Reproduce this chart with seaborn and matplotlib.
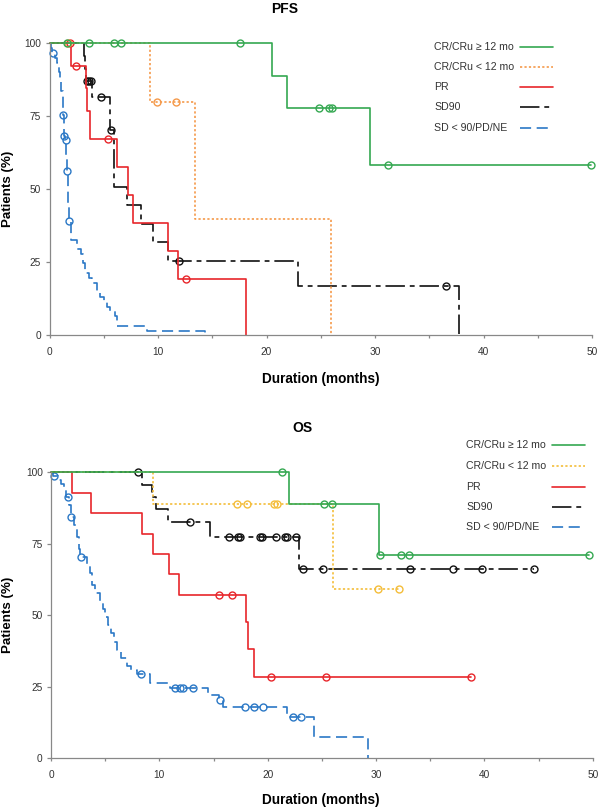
# Kaplan-Meier style PFS / OS curves by response group
import numpy as np
import matplotlib
matplotlib.use("Agg")
import matplotlib.pyplot as plt
from matplotlib.lines import Line2D
import seaborn as sns

sns.set_theme(style="ticks")
plt.rcParams["font.family"] = ["Liberation Sans", "DejaVu Sans"]
plt.rcParams["lines.scale_dashes"] = False

GROUPS = ["CR/CRu \u2265 12 mo", "CR/CRu < 12 mo", "PR", "SD90", "SD < 90/PD/NE"]

# ---- PFS (event times in months, % surviving after each step, censor times)
pfs_cr12_t = [0, 20.5, 21.9, 29.5]
pfs_cr12_s = [100, 88.9, 77.8, 58.3]
pfs_cr12_c = [1.6, 3.6, 5.9, 6.6, 17.6, 24.8, 25.8, 26.0, 31.2, 49.9]

pfs_cr_lt_t = [0, 9.3, 13.4, 25.95]
pfs_cr_lt_s = [100, 80.0, 40.0, 0]
pfs_cr_lt_c = [1.7, 9.9, 11.7]

pfs_pr_t = [0, 1.95, 3.35, 3.45, 3.75, 6.25, 7.2, 7.7, 10.9, 11.85, 18.15]
pfs_pr_s = [100, 92.3, 84.6, 76.9, 67.3, 57.7, 48.1, 38.5, 28.8, 19.2, 0]
pfs_pr_c = [1.85, 2.4, 5.4, 12.6]

pfs_sd90_t = [0, 3.2, 3.3, 3.38, 3.9, 5.6, 5.9, 7.1, 8.4, 9.5, 10.9, 22.9, 37.75]
pfs_sd90_s = [100, 95.7, 91.3, 87.0, 81.5, 70.2, 50.9, 44.5, 38.2, 31.8, 25.5, 17.0, 0]
pfs_sd90_c = [3.45, 3.62, 3.78, 4.75, 5.7, 11.9, 36.5]

pfs_sd_t = [0, 0.15, 0.25, 0.5, 0.65, 0.8, 0.9, 1.0, 1.1, 1.2, 1.25, 1.32, 1.34, 1.45,
            1.55, 1.6, 1.7, 1.75, 1.8, 2.0, 2.5, 2.9, 3.1, 3.3, 3.6, 3.9, 4.4, 4.7,
            5.0, 5.3, 5.6, 6.05, 6.2, 9.0, 14.35]
pfs_sd_s = [100, 98.4, 96.7, 95.0, 93.4, 91.8, 90.1, 86.8, 83.5, 78.6, 75.4, 70.5, 68.3, 66.8,
            60.6, 56.4, 50.8, 44.3, 39.2, 32.8, 29.5, 27.9, 24.6, 21.3, 19.7, 18.0, 14.8, 13.1,
            11.5, 9.8, 8.2, 6.6, 3.3, 1.6, 0]
pfs_sd_c = [0.28, 1.27, 1.34, 1.48, 1.62, 1.83]

# ---- OS
os_cr12_t = [0, 22.0, 30.3]
os_cr12_s = [100, 88.9, 71.1]
os_cr12_c = [21.3, 25.2, 25.9, 30.4, 32.3, 33.0, 49.7]

os_cr_lt_t = [0, 9.4, 26.0]
os_cr_lt_s = [100, 88.9, 59.3]
os_cr_lt_c = [17.2, 18.1, 20.6, 20.9, 30.2, 32.1]

os_pr_t = [0, 1.95, 3.7, 8.4, 9.45, 10.9, 11.8, 18.0, 18.15, 18.7]
os_pr_s = [100, 92.9, 85.7, 78.6, 71.4, 64.3, 57.1, 47.6, 38.1, 28.6]
os_pr_c = [15.5, 16.7, 20.3, 25.4, 38.8]

os_sd90_t = [0, 8.4, 9.3, 9.7, 10.8, 14.7, 22.9]
os_sd90_s = [100, 95.7, 91.3, 87.0, 82.6, 77.4, 66.3]
os_sd90_c = [8.0, 12.8, 16.4, 17.3, 17.4, 19.3, 19.5, 20.8, 21.6, 21.8, 22.6, 23.3,
             25.1, 33.1, 37.1, 39.8, 44.6]

os_sd_t = [0, 0.2, 0.6, 0.9, 1.2, 1.4, 1.7, 1.8, 2.1, 2.4, 2.6, 2.7, 3.3, 3.6, 3.8, 4.1,
           4.5, 4.8, 5.0, 5.3, 5.5, 5.8, 6.1, 6.5, 7.0, 7.4, 7.9, 9.1, 11.0, 14.5, 15.5,
           15.9, 21.8, 24.3, 29.3]
os_sd_s = [100, 98.6, 97.2, 95.8, 94.4, 91.5, 88.7, 84.5, 81.7, 77.5, 73.2, 70.4, 67.6, 64.8,
           60.6, 57.7, 54.9, 52.1, 49.3, 46.5, 43.7, 40.8, 38.0, 35.2, 32.4, 31.0, 29.6, 26.2,
           24.5, 22.2, 20.4, 18.0, 14.5, 7.3, 0]
os_sd_c = [0.28, 1.6, 1.85, 2.75, 8.3, 11.45, 11.9, 12.2, 13.1, 15.6, 17.9, 18.7, 19.6, 22.3, 23.1]

# line styles per group
GREEN, RED, BLUE, BLACK = "#35a852", "#e8262b", "#2b78c6", "#111111"
ORANGE_PFS, ORANGE_OS = "#f5994a", "#f4bd3a"
STYLES = [
    dict(linestyle="-"),
    dict(linestyle=(0, (1.6, 1.6))),
    dict(linestyle="-"),
    dict(linestyle=(0, (14, 3.5, 3.5, 3.5))),
    dict(linestyle=(0, (8, 4))),
]


def step_value(t, s, x):
    idx = np.searchsorted(t, x, side="right") - 1
    return np.asarray(s)[idx]


def draw_km(ax, t, s, c, color, style):
    xs, ys = list(t), list(s)
    if ys[-1] > 0 and max(c) > xs[-1]:
        xs.append(max(c))
        ys.append(ys[-1])
    sns.lineplot(x=xs, y=ys, ax=ax, color=color, linewidth=1.2, estimator=None,
                 sort=False, drawstyle="steps-post", clip_on=False, **style)
    cy = step_value(t, s, c)
    sns.lineplot(x=c, y=cy, ax=ax, color=color, linestyle="none", marker="o",
                 markersize=5, markerfacecolor="none", markeredgecolor=color,
                 markeredgewidth=1.0, estimator=None, sort=False, clip_on=False)


def style_axes(ax):
    ax.set_xlim(0, 50)
    ax.set_ylim(0, 100)
    ax.set_xticks([0, 10, 20, 30, 40, 50])
    ax.set_xticks([5, 15, 25, 35, 45], minor=True)
    ax.set_yticks([0, 25, 50, 75, 100])
    for side in ["top", "right"]:
        ax.spines[side].set_visible(False)
    for side in ["left", "bottom"]:
        ax.spines[side].set_color("#888888")
        ax.spines[side].set_linewidth(0.9)
    ax.tick_params(axis="both", which="both", direction="out", color="#888888",
                   width=0.9, labelsize=7.3, labelcolor="#333333")
    ax.tick_params(axis="x", which="both", length=2.5, pad=6)
    ax.tick_params(axis="y", length=3, pad=3)
    ax.set_xlabel("")
    ax.set_ylabel("")


fig = plt.figure(figsize=(6, 8.09), dpi=100)
W, H = 600, 809


def fx(px):
    return px / W


def fy(py):
    return 1 - py / H


ax1 = fig.add_axes([fx(49.5), fy(335.3), fx(592) - fx(49.5), fy(43.3) - fy(335.3)])
ax2 = fig.add_axes([fx(51), fy(758.3), fx(592.7) - fx(51), fy(472.3) - fy(758.3)])

pfs = [
    (pfs_cr12_t, pfs_cr12_s, pfs_cr12_c, GREEN),
    (pfs_cr_lt_t, pfs_cr_lt_s, pfs_cr_lt_c, ORANGE_PFS),
    (pfs_pr_t, pfs_pr_s, pfs_pr_c, RED),
    (pfs_sd90_t, pfs_sd90_s, pfs_sd90_c, BLACK),
    (pfs_sd_t, pfs_sd_s, pfs_sd_c, BLUE),
]
os_ = [
    (os_cr12_t, os_cr12_s, os_cr12_c, GREEN),
    (os_cr_lt_t, os_cr_lt_s, os_cr_lt_c, ORANGE_OS),
    (os_pr_t, os_pr_s, os_pr_c, RED),
    (os_sd90_t, os_sd90_s, os_sd90_c, BLACK),
    (os_sd_t, os_sd_s, os_sd_c, BLUE),
]

# draw blue first, green last so green sits on top at 100 %
for ax, groups in [(ax1, pfs), (ax2, os_)]:
    for i in [4, 3, 2, 1, 0]:
        t, s, c, col = groups[i]
        draw_km(ax, t, s, c, col, STYLES[i])
    style_axes(ax)

# titles and axis labels
bold = dict(fontweight="bold", color="black")
fig.text(fx(285), fy(9), "PFS", ha="center", va="center", fontsize=10, **bold)
fig.text(fx(302), fy(428), "OS", ha="center", va="center", fontsize=10, **bold)
fig.text(fx(321), fy(379), "Duration (months)", ha="center", va="center", fontsize=9.8, **bold)
fig.text(fx(321), fy(800), "Duration (months)", ha="center", va="center", fontsize=9.8, **bold)
fig.text(fx(8), fy(189), "Patients (%)", ha="center", va="center", rotation=90, fontsize=9.6, **bold)
fig.text(fx(8), fy(615), "Patients (%)", ha="center", va="center", rotation=90, fontsize=9.6, **bold)

# legends: text left-aligned, line sample right-aligned
legend_specs = [
    (434, 520, 553, [46.7, 66.7, 87.3, 107.3, 128.3], [c[3] for c in pfs]),
    (466, 552, 585, [445, 466, 486.7, 506.7, 526.7], [c[3] for c in os_]),
]
for tx, hx0, hx1, rows, cols in legend_specs:
    for i, (label, row) in enumerate(zip(GROUPS, rows)):
        fig.text(fx(tx), fy(row), label, ha="left", va="center", fontsize=7.6, color="#333333")
        fig.add_artist(Line2D([fx(hx0), fx(hx1)], [fy(row), fy(row)], transform=fig.transFigure,
                              color=cols[i], linewidth=1.2, **STYLES[i]))

fig.savefig("out.png", dpi=100)
